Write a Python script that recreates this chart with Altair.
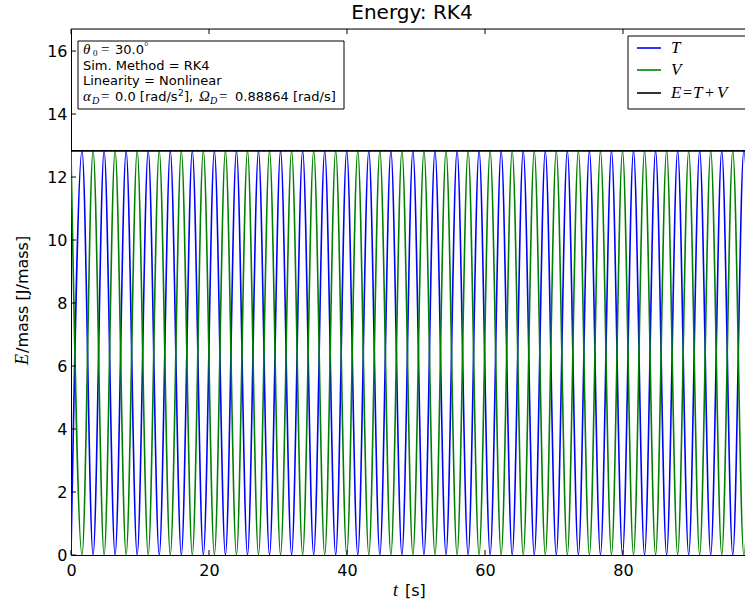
import altair as alt
import pandas as pd

# Times [s] at which the kinetic energy T is zero (V at its maximum)
t_T_min = [0.0, 3.20, 6.39, 9.59, 12.79, 15.99, 19.18, 22.38, 25.58, 28.77,
           31.97, 35.17, 38.36, 41.56, 44.76, 47.96, 51.15, 54.35, 57.55, 60.74,
           63.94, 67.14, 70.33, 73.53, 76.73, 79.93, 83.12, 86.32, 89.52, 92.71,
           95.91, 99.11]
# Times [s] at which T reaches its maximum (V is zero)
t_T_max = [1.60, 4.80, 7.99, 11.19, 14.39, 17.58, 20.78, 23.98, 27.17, 30.37,
           33.57, 36.77, 39.96, 43.16, 46.36, 49.55, 52.75, 55.95, 59.14, 62.34,
           65.54, 68.74, 71.93, 75.13, 78.33, 81.52, 84.72, 87.92, 91.11, 94.31,
           97.51]
E_total = 12.83          # total energy per mass [J/mass]
t_span = [0.0, 99.11]    # time range of the constant total-energy line

series_names = ["T", "V", "E=T+V"]
series_colors = ["#0000ff", "#008000", "#000000"]
x_ticks = [0, 20, 40, 60, 80]
y_ticks = [0, 2, 4, 6, 8, 10, 12, 14, 16]

W, H = 674, 526
X_MAX, Y_MAX = 97.68, 16.7

rows = []
for t in t_T_min:
    rows.append({"t": t, "E": 0.0, "series": "T"})
for t in t_T_max:
    rows.append({"t": t, "E": E_total, "series": "T"})
for t in t_T_min:
    rows.append({"t": t, "E": E_total, "series": "V"})
for t in t_T_max:
    rows.append({"t": t, "E": 0.0, "series": "V"})
for t in t_span:
    rows.append({"t": t, "E": E_total, "series": "E=T+V"})
df = pd.DataFrame(rows)

SANS = "DejaVu Sans"
MATH = "Liberation Serif"

x_scale = alt.Scale(domain=[0, X_MAX], nice=False, zero=False)
y_scale = alt.Scale(domain=[0, Y_MAX], nice=False, zero=False)
x_axis = alt.Axis(values=x_ticks, format="d", title=None, grid=False, ticks=False,
                  labelFont=SANS, labelFontSize=16, labelColor="black", labelFlush=False,
                  domainColor="black", domainWidth=1, labelPadding=7)
y_axis = alt.Axis(values=y_ticks, format="d", title=None, grid=False, ticks=False,
                  labelFont=SANS, labelFontSize=16, labelColor="black", labelFlush=False,
                  domainColor="black", domainWidth=1, labelPadding=4)
x_enc = alt.X("t:Q", scale=x_scale, axis=x_axis)
y_enc = alt.Y("E:Q", scale=y_scale, axis=y_axis)

lines = alt.Chart(df).mark_line(strokeWidth=1.6, interpolate="monotone", clip=True).encode(
    x=x_enc,
    y=y_enc,
    color=alt.Color("series:N",
                    scale=alt.Scale(domain=series_names, range=series_colors),
                    legend=None),
    order=alt.Order("t:Q"),
)

xt = pd.DataFrame({"t": x_ticks})
yt = pd.DataFrame({"E": y_ticks})
one = pd.DataFrame({"k": [0]})

bottom_ticks = alt.Chart(xt).mark_rule(color="black", strokeWidth=1).encode(
    x=x_enc, y=alt.value(H), y2=alt.value(H - 5))
top_ticks = alt.Chart(xt).mark_rule(color="black", strokeWidth=1).encode(
    x=x_enc, y=alt.value(0), y2=alt.value(5))
left_ticks = alt.Chart(yt).mark_rule(color="black", strokeWidth=1).encode(
    y=y_enc, x=alt.value(0), x2=alt.value(5))
top_frame = alt.Chart(one).mark_rule(color="black", strokeWidth=1).encode(
    x=alt.value(0), x2=alt.value(W), y=alt.value(0))

# info box in the upper-left corner
info_box = alt.Chart(one).mark_rect(fill="white", stroke="black", strokeWidth=1).encode(
    x=alt.value(7), x2=alt.value(273), y=alt.value(12), y2=alt.value(80))

# legend box in the upper-right corner (runs past the right edge)
legend_box = alt.Chart(one).mark_rect(fill="white", stroke="black", strokeWidth=1).encode(
    x=alt.value(557), x2=alt.value(700), y=alt.value(7), y2=alt.value(80))
legend_rows = [19, 41, 64]
legend_samples = [
    alt.Chart(one).mark_rule(color=c, strokeWidth=1.6).encode(
        x=alt.value(566), x2=alt.value(590), y=alt.value(yr))
    for c, yr in zip(series_colors, legend_rows)
]


def txt(s, x, y, font=SANS, size=13, style="normal", angle=0, align="left"):
    return alt.Chart(one).mark_text(
        text=s, font=font, fontSize=size, fontStyle=style, angle=angle,
        align=align, baseline="alphabetic", color="black",
    ).encode(x=alt.value(x), y=alt.value(y))


texts = [
    # title
    txt("Energy: RK4", 341, -10, size=20, align="center"),
    # x label
    txt("t", 322, 567, font=MATH, size=18, style="italic"),
    txt("[s]", 334, 567, size=16),
    # y label
    txt("E", -43, 336, font=MATH, size=18, style="italic", angle=270),
    txt("/mass [J/mass]", -43, 324, size=16, angle=270),
    # info box, line 1
    txt("θ", 12, 25, font=MATH, size=15, style="italic"),
    txt("0", 22, 27, font=MATH, size=9),
    txt("=", 30, 25, font=MATH, size=15),
    txt("30.0", 44, 25),
    txt("°", 73, 21, font=MATH, size=11),
    # lines 2 and 3
    txt("Sim. Method = RK4", 12, 41),
    txt("Linearity = Nonlinear", 12, 56),
    # line 4
    txt("α", 12, 72, font=MATH, size=15, style="italic"),
    txt("D", 21, 75, font=MATH, size=10, style="italic"),
    txt("=", 30, 72, font=MATH, size=15),
    txt("0.0 [rad/s", 44, 72),
    txt("2", 107, 67, size=9),
    txt("],", 113, 72),
    txt("Ω", 128, 72, font=MATH, size=15, style="italic"),
    txt("D", 139, 75, font=MATH, size=10, style="italic"),
    txt("=", 148, 72, font=MATH, size=15),
    txt("0.88864 [rad/s]", 164, 72),
    # legend labels
    txt("T", 600, legend_rows[0] + 5, font=MATH, size=17, style="italic"),
    txt("V", 600, legend_rows[1] + 5, font=MATH, size=17, style="italic"),
    txt("E", 600, legend_rows[2] + 5, font=MATH, size=17, style="italic"),
    txt("=", 612, legend_rows[2] + 5, font=MATH, size=16),
    txt("T", 622, legend_rows[2] + 5, font=MATH, size=17, style="italic"),
    txt("+", 634, legend_rows[2] + 5, font=MATH, size=16),
    txt("V", 646, legend_rows[2] + 5, font=MATH, size=17, style="italic"),
]

chart = alt.layer(
    lines, bottom_ticks, top_ticks, left_ticks, top_frame, info_box,
    legend_box, *legend_samples, *texts
).properties(
    width=W, height=H,
    padding={"left": 71, "top": 29, "right": 0, "bottom": 56},
    autosize=alt.AutoSizeParams(type="none"),
).configure_view(stroke=None).configure(background="white")

chart.save("out.html", embed_options={"renderer": "svg", "actions": False})
